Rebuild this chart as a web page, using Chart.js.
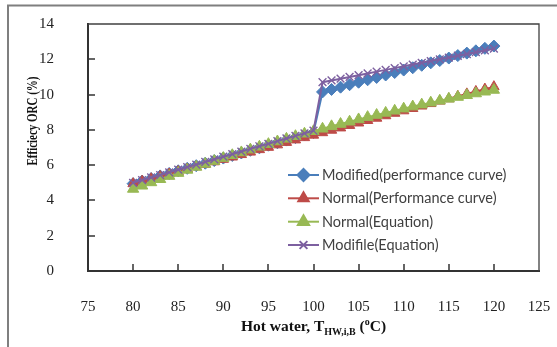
<!DOCTYPE html>
<html><head><meta charset="utf-8">
<script src="https://cdn.jsdelivr.net/npm/chart.js@4.4.0/dist/chart.umd.min.js"></script>
<style>html,body{margin:0;padding:0;background:#fff;}#wrap{width:557px;height:347px;position:relative;}canvas{display:block;}</style>
</head><body><div id="wrap"><canvas id="c" width="557" height="347"></canvas></div>
<script>
// ---- data ----
const temps = [80,81,82,83,84,85,86,87,88,89,90,91,92,93,94,95,96,97,98,99,100,101,102,103,104,105,106,107,108,109,110,111,112,113,114,115,116,117,118,119,120];
const modifiedPerf = [4.95,5.10,5.24,5.39,5.53,5.68,5.82,5.97,6.11,6.26,6.40,6.55,6.69,6.84,6.98,7.13,7.27,7.42,7.56,7.71,7.85,10.15,10.29,10.42,10.56,10.70,10.84,10.97,11.11,11.25,11.39,11.52,11.66,11.80,11.93,12.07,12.21,12.35,12.48,12.62,12.75];
const normalPerf = [4.95,5.09,5.23,5.36,5.50,5.64,5.78,5.91,6.05,6.19,6.33,6.46,6.60,6.74,6.88,7.01,7.15,7.29,7.43,7.56,7.70,7.84,7.98,8.11,8.25,8.39,8.53,8.66,8.80,8.94,9.08,9.21,9.35,9.49,9.63,9.76,9.90,10.04,10.18,10.31,10.45];
const normalEq = [4.65,4.83,5.02,5.20,5.38,5.55,5.73,5.90,6.07,6.23,6.40,6.56,6.72,6.88,7.04,7.19,7.34,7.49,7.64,7.78,7.92,8.06,8.20,8.33,8.46,8.59,8.72,8.84,8.96,9.08,9.20,9.32,9.43,9.54,9.65,9.76,9.86,9.96,10.06,10.16,10.26];
const modifiedEq = [5.00,5.15,5.30,5.44,5.59,5.74,5.89,6.03,6.18,6.33,6.48,6.62,6.77,6.92,7.07,7.21,7.36,7.51,7.66,7.80,7.95,10.70,10.80,10.90,11.00,11.10,11.20,11.30,11.40,11.50,11.60,11.70,11.80,11.90,12.00,12.10,12.20,12.30,12.40,12.50,12.60];
const seriesNames = ['Modified(performance curve)','Normal(Performance curve)','Normal(Equation)','Modifile(Equation)'];
const xTicks = [75,80,85,90,95,100,105,110,115,120,125];
const yTicks = [0,2,4,6,8,10,12,14];
const yTitle = 'Efficiecy ORC (%)';

const colors = ['#4A7EBB','#BE4B48','#98B954','#7D60A0'];
const styles = [
  {pointStyle:'rectRot', r:6, bw:1},
  {pointStyle:'triangle', r:6, bw:1},
  {pointStyle:'triangle', r:6.5, bw:1},
  {pointStyle:'crossRot', r:5.5, bw:1.4}
];
const allValues = [modifiedPerf, normalPerf, normalEq, modifiedEq];

const datasets = allValues.map((vals, i) => ({
  label: seriesNames[i],
  data: temps.map((t, k) => ({x: t, y: vals[k]})),
  borderColor: colors[i],
  backgroundColor: colors[i],
  borderWidth: 2,
  pointStyle: styles[i].pointStyle,
  pointRadius: styles[i].r,
  pointBorderWidth: styles[i].bw,
  pointBackgroundColor: colors[i],
  pointBorderColor: colors[i],
  tension: 0,
  order: 3 - i
}));

const decor = {
  id: 'decor',
  afterDraw(chart) {
    const ctx = chart.ctx;
    const a = chart.chartArea;
    const xs = chart.scales.x, ys = chart.scales.y;
    ctx.save();
    // outer frame (top and left edges visible)
    ctx.strokeStyle = '#7f7f7f'; ctx.lineWidth = 2;
    ctx.beginPath(); ctx.moveTo(8, 347); ctx.lineTo(8, 5.5); ctx.lineTo(557, 5.5); ctx.stroke();
    // plot box
    ctx.strokeStyle = '#404040'; ctx.lineWidth = 1.3;
    ctx.beginPath(); ctx.moveTo(a.left, a.top); ctx.lineTo(a.right, a.top); ctx.lineTo(a.right, a.bottom); ctx.stroke();
    // inside ticks
    ctx.strokeStyle = '#333'; ctx.lineWidth = 1.5;
    ctx.beginPath();
    xTicks.forEach(v => { const px = Math.round(xs.getPixelForValue(v)); if (v > 75 && v < 125) { ctx.moveTo(px, a.bottom); ctx.lineTo(px, a.bottom - 7); } });
    yTicks.forEach(v => { const py = Math.round(ys.getPixelForValue(v)); if (v > 0 && v < 14) { ctx.moveTo(a.left, py); ctx.lineTo(a.left + 7, py); } });
    ctx.stroke();
    // legend
    const rows = [175, 198.3, 221.7, 245];
    ctx.font = '14.5px Lato';
    ctx.textBaseline = 'middle'; ctx.textAlign = 'left';
    rows.forEach((y, i) => {
      ctx.strokeStyle = colors[i]; ctx.lineWidth = 2;
      ctx.beginPath(); ctx.moveTo(288, y); ctx.lineTo(319, y); ctx.stroke();
      ctx.fillStyle = colors[i]; ctx.strokeStyle = colors[i];
      Chart.helpers.drawPoint(ctx, {pointStyle: styles[i].pointStyle, radius: styles[i].r, rotation: 0, borderWidth: styles[i].bw}, 303.5, y);
      ctx.fillStyle = '#404040';
      ctx.fillText(seriesNames[i], 322, y + 0.5);
    });
    // x title with sub/superscript
    ctx.fillStyle = '#111';
    ctx.textBaseline = 'alphabetic';
    const big = 'bold 15.5px "Liberation Serif"', small = 'bold 10px "Liberation Serif"';
    const parts = [['Hot water, T', big, 0], ['HW,i,B', small, 4], [' (', big, 0], ['o', small, -6], ['C)', big, 0]];
    let total = 0;
    parts.forEach(p => { ctx.font = p[1]; total += ctx.measureText(p[0]).width; });
    let x = (a.left + a.right) / 2 - total / 2;
    const base = 331;
    parts.forEach(p => { ctx.font = p[1]; ctx.fillText(p[0], x, base + p[2]); x += ctx.measureText(p[0]).width; });
    // y title
    ctx.translate(33, 121);
    ctx.rotate(-Math.PI / 2);
    ctx.font = 'bold 14px "Liberation Serif"';
    const w = ctx.measureText(yTitle).width;
    ctx.scale(89 / w, 1);
    ctx.textAlign = 'center'; ctx.textBaseline = 'middle';
    ctx.fillText(yTitle, 0, 0);
    ctx.restore();
  }
};

new Chart(document.getElementById('c'), {
  type: 'line',
  data: { datasets },
  options: {
    responsive: false,
    animation: false,
    events: [],
    layout: { padding: { left: 0, top: 24, right: 18, bottom: 0 } },
    plugins: { legend: { display: false }, tooltip: { enabled: false }, title: { display: false } },
    scales: {
      x: {
        type: 'linear', min: 75, max: 125,
        afterBuildTicks: s => { s.ticks = xTicks.map(v => ({value: v})); },
        afterFit: s => { s.height = 76; s.paddingLeft = 0; s.paddingRight = 0; },
        grid: { display: false, drawTicks: false },
        border: { display: true, color: '#333', width: 2 },
        ticks: { padding: 27, color: '#222', font: { family: 'Liberation Serif', size: 15 }, maxRotation: 0, autoSkip: false }
      },
      y: {
        min: 0, max: 14,
        afterBuildTicks: s => { s.ticks = yTicks.map(v => ({value: v})); },
        afterFit: s => { s.width = 88; s.paddingTop = 0; s.paddingBottom = 0; },
        grid: { display: false, drawTicks: false },
        border: { display: true, color: '#333', width: 2 },
        ticks: { padding: 34, color: '#222', font: { family: 'Liberation Serif', size: 15 } }
      }
    }
  },
  plugins: [decor]
});
</script>
</body></html>
